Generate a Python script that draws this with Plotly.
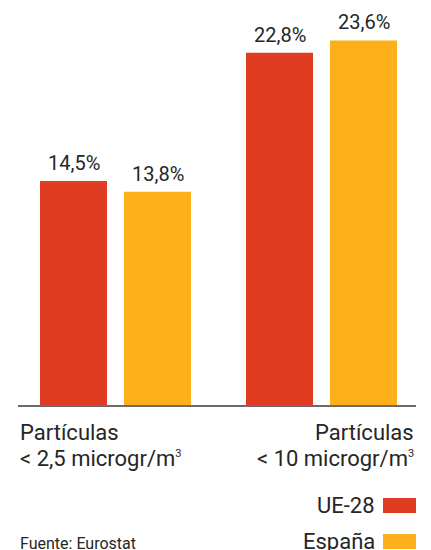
import plotly.graph_objects as go

categories = [["Partículas", "< 2,5 microgr/m<sup><span style='font-size:11px'>3</span></sup>"],
              ["Partículas", "< 10 microgr/m<sup><span style='font-size:11px'>3</span></sup>"]]
series_names = ["UE-28", "España"]
ue28 = [14.5, 22.8]
espana = [13.8, 23.6]
colors = ["#E03C22", "#FDB019"]
source = "Fuente: Eurostat"

def fmt(v):
    return f"{v:.1f}%".replace(".", ",")

# page has an 8px body margin; figure coordinates are page coords minus offset
OX, OY = 8, 8
W, H = 431 - OX, 550 - OY + 20
ML = 18 - OX
MR = 431 - 416
MT = 0
BASE = 405 - OY            # baseline in figure px
MB = H - BASE
FONT = "Roboto"
TXT = "#262626"
PW = W - ML - MR
PH = H - MT - MB

fig = go.Figure()
for k, (name, vals, col) in enumerate(zip(series_names, [ue28, espana], colors)):
    fig.add_trace(go.Bar(
        x=[0, 1], y=vals, name=name, marker_color=col, marker_line_width=0,
        showlegend=False, hoverinfo="skip",
    ))
    for i, v in enumerate(vals):
        fig.add_annotation(x=i, y=v, xref="x", yref="y", text=fmt(v),
                           xshift=(-42 if k == 0 else 42), yshift=4,
                           xanchor="center", yanchor="bottom", showarrow=False,
                           font=dict(family=FONT, size=20, color=TXT))

r0 = -97.5 / 206
r1 = r0 + PW / 206
fig.update_layout(
    width=W, height=H, margin=dict(l=ML, r=MR, t=MT, b=MB),
    paper_bgcolor="white", plot_bgcolor="white",
    barmode="group", bargap=38 / 206, bargroupgap=17 / 84,
    xaxis=dict(range=[r0, r1], showgrid=False, zeroline=False, showticklabels=False,
               showline=True, linecolor="#6b6b6b", linewidth=2, ticks=""),
    yaxis=dict(range=[0, (BASE - MT) / 15.45], visible=False),
    font=dict(family=FONT, color=TXT),
)

def py(page_y):
    return (BASE - (page_y - OY)) / PH

def px(page_x):
    return (page_x - OX - ML) / PW

# category labels, one annotation per line for tight line spacing
for ci, lines in enumerate(categories):
    for li, line in enumerate(lines):
        fig.add_annotation(x=(0 if ci == 0 else 1), y=py(432.5 + li * 25.5),
                           xref="paper", yref="paper", text=line,
                           xanchor=("left" if ci == 0 else "right"), yanchor="middle",
                           showarrow=False, font=dict(family=FONT, size=22, color=TXT))

# legend
for i, (name, col) in enumerate(zip(series_names, colors)):
    yc = 505.5 + i * 36
    fig.add_shape(type="rect", xref="paper", yref="paper",
                  x0=px(383), x1=1, y0=py(yc + 7.5), y1=py(yc - 7.5),
                  fillcolor=col, line_width=0)
    fig.add_annotation(x=px(377), y=py(yc), xref="paper", yref="paper",
                       text=name, xanchor="right", yanchor="middle", showarrow=False,
                       font=dict(family=FONT, size=22, color=TXT))

fig.add_annotation(x=0, y=py(543), xref="paper", yref="paper", text=source,
                   xanchor="left", yanchor="middle", showarrow=False,
                   font=dict(family=FONT, size=16, color=TXT))

fig.write_html("out.html")
